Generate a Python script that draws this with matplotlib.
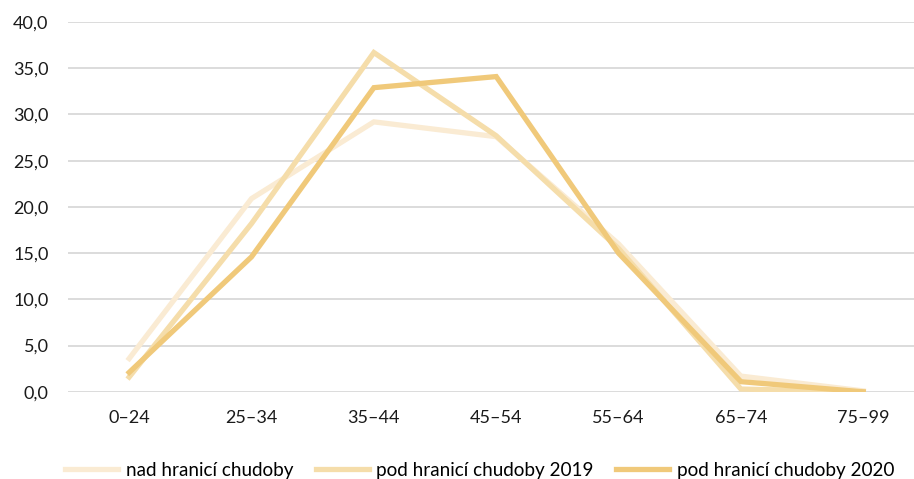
import matplotlib.pyplot as plt
from matplotlib.ticker import FuncFormatter

# vekove skupiny
vek = ['0–24', '25–34', '35–44', '45–54', '55–64', '65–74', '75–99']

nad_hranici = [3.6, 20.9, 29.2, 27.6, 16.0, 1.7, 0.1]
pod_2019 = [1.6, 18.2, 36.7, 27.7, 15.5, 0.3, 0.0]
pod_2020 = [2.1, 14.6, 32.9, 34.1, 15.0, 1.1, 0.0]

plt.rcParams['font.family'] = ['Lato', 'DejaVu Sans']

fig = plt.figure(figsize=(9.14, 4.79), dpi=100)
ax = fig.add_axes([0.0744, 0.182, 0.937, 0.772])

x = range(len(vek))
ax.plot(x, nad_hranici, color='#FAEBD3', lw=3.8, label='nad hranicí chudoby', solid_joinstyle='miter')
ax.plot(x, pod_2019, color='#F5DDAA', lw=3.8, label='pod hranicí chudoby 2019', solid_joinstyle='miter')
ax.plot(x, pod_2020, color='#F0C97A', lw=3.8, label='pod hranicí chudoby 2020', solid_joinstyle='miter')

ax.set_xlim(-0.5, 6.5)
ax.set_ylim(0, 40)
ax.set_yticks(range(0, 41, 5))
ax.yaxis.set_major_formatter(FuncFormatter(lambda v, p: f'{v:.1f}'.replace('.', ',')))
ax.set_xticks(list(x))
ax.set_xticklabels(vek)
ax.grid(axis='y', color='#D9D9D9', lw=1.3)
ax.set_axisbelow(True)
for s in ax.spines.values():
    s.set_visible(False)
ax.tick_params(length=0, labelsize=13, colors='#1a1a1a')
ax.tick_params(axis='x', pad=13)
ax.tick_params(axis='y', pad=14)

fig.legend(loc='lower center', bbox_to_anchor=(0.525, -0.035), ncol=3, frameon=False,
           fontsize=13.6, handlelength=2.8, handletextpad=0.4, columnspacing=1.2)

fig.savefig('out.png', dpi=100)
